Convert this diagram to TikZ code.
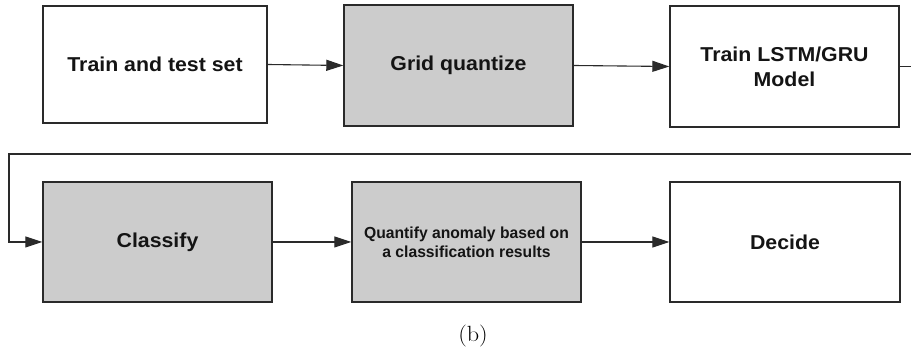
\documentclass[tikz,border=0pt]{standalone}
\usepackage{fontspec}
\newfontfamily\boxfont{Liberation Sans}[FakeStretch=1.06]
\newfontfamily\notefont{Liberation Sans}[FakeStretch=0.98]
\usetikzlibrary{arrows.meta}
\definecolor{boxgray}{HTML}{CCCCCC}
\definecolor{edge}{HTML}{2A2A2A}
\definecolor{ink}{HTML}{141414}
\begin{document}
\begin{tikzpicture}[x=1pt,y=-1pt,
  stage/.style={draw=edge, line width=1.4pt, rectangle, inner sep=0pt,
    minimum width=229pt, minimum height=120pt, align=center, text=ink,
    font=\boxfont\bfseries\fontsize{20.1}{24.8}\selectfont},
  shaded/.style={stage, fill=boxgray},
  flow/.style={draw=edge, line width=1.1pt, -{Triangle[length=17pt,width=11pt]}},
  wire/.style={draw=edge, line width=1.1pt}]
  \useasboundingbox (0,0) rectangle (911,352);

  % first row
  \node[stage, minimum width=224pt, minimum height=117pt] (train) at (155,64.5) {Train and test set};
  \node[shaded, minimum height=121pt] (grid) at (458.5,65.5) {Grid quantize};
  \node[stage, minimum height=121pt] (model) at (784.5,66.5) {Train LSTM/GRU\\Model};

  % second row
  \node[shaded] (classify) at (157.5,242) {Classify};
  \node[shaded, font=\notefont\bfseries\fontsize{16}{19}\selectfont] (quantify) at (466.5,242)
    {Quantify anomaly based on\\a classification results};
  \node[stage, minimum width=230pt] (decide) at (785,242) {Decide};

  % caption
  \node[font=\fontsize{22}{26}\selectfont] (caption) at (473,336) {\scalebox{1.1}[1]{(b)}};

  % connectors
  \coordinate (exitR) at (911,66.5);
  \coordinate (wrapR) at (911,154);
  \coordinate (wrapL) at (9,154);
  \draw[flow] (train.east) -- (grid.west);
  \draw[flow] (grid.east) -- (model.west);
  \draw[wire] (model.east) -- (exitR);
  \draw[flow] (wrapR) -- (wrapL) |- (classify.west);
  \draw[flow] (classify.east) -- (quantify.west);
  \draw[flow] (quantify.east) -- (decide.west);
\end{tikzpicture}
\end{document}
